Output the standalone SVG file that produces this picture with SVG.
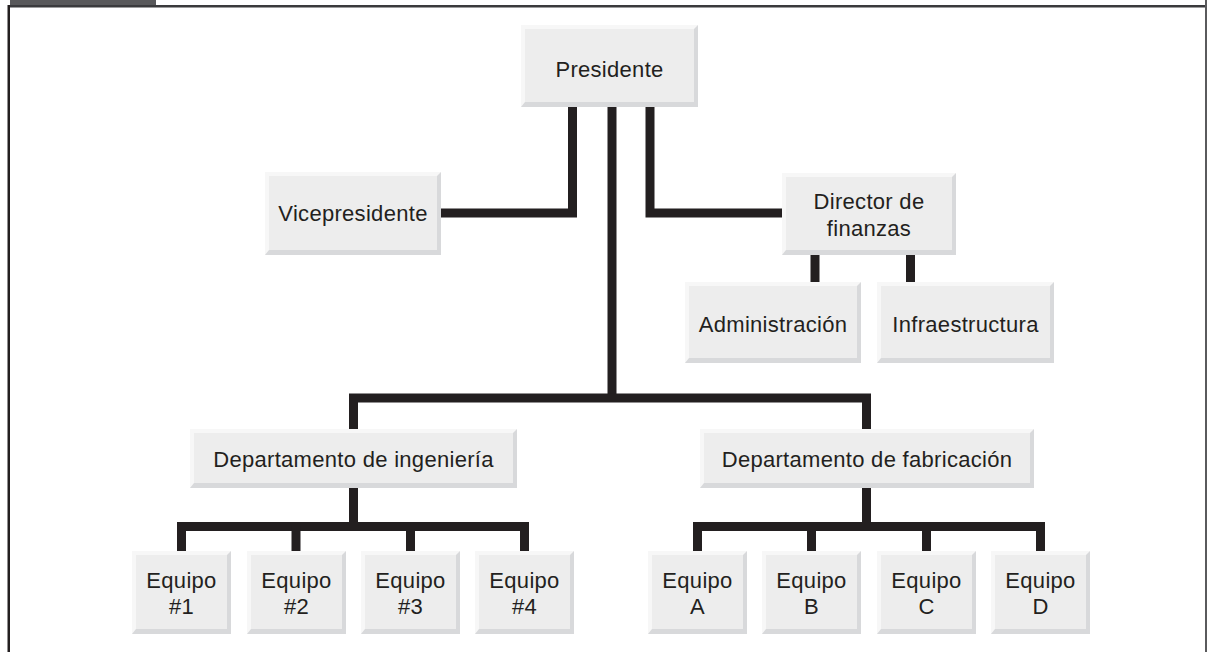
<svg xmlns="http://www.w3.org/2000/svg" width="1207" height="652" viewBox="0 0 1207 652">
<style>
.sh{fill:#d8d9db}
.hl{fill:#f7f7f7}
.face{fill:#ededed}
text{font-family:"Liberation Sans",Arial,sans-serif;font-size:22px;fill:#231f20;text-anchor:middle;letter-spacing:0.3px}
.conn{fill:none;stroke:#231f20;stroke-width:9;stroke-linejoin:miter;stroke-linecap:butt}
</style>
<rect x="0" y="0" width="1207" height="652" fill="#ffffff"/>
<g id="frame">
<rect x="10" y="0" width="146" height="5" fill="#58585a"/>
<rect x="8" y="5" width="1199" height="2.5" fill="#3a3a3c"/>
<rect x="7.5" y="5" width="2.5" height="647" fill="#231f20"/>
<rect x="1205" y="0" width="2" height="652" fill="#5a5a5c"/>
</g>
<g id="connectors">
<polyline class="conn" points="572.5,106 572.5,213 441,213"/>
<polyline class="conn" points="650,106 650,213 782,213"/>
<polyline class="conn" points="612,106 612,398"/>
<polyline class="conn" points="353.5,429 353.5,398 866.5,398 866.5,429"/>
<polyline class="conn" points="815,255 815,282"/>
<polyline class="conn" points="910.5,255 910.5,282"/>
<polyline class="conn" points="353.5,488 353.5,526.5"/>
<polyline class="conn" points="181.5,551 181.5,526.5 524.5,526.5 524.5,551"/>
<polyline class="conn" points="296,526 296,551"/>
<polyline class="conn" points="410.5,526 410.5,551"/>
<polyline class="conn" points="866.5,488 866.5,526.5"/>
<polyline class="conn" points="697.5,551 697.5,526.5 1040.5,526.5 1040.5,551"/>
<polyline class="conn" points="811.5,526 811.5,551"/>
<polyline class="conn" points="926.5,526 926.5,551"/>
</g>
<g id="presidente">
<rect class="sh" x="521" y="25" width="177" height="82"/>
<path class="hl" d="M521 25 H698 L694 29 H525 V102 L521 107 Z"/>
<rect class="face" x="525" y="29" width="169" height="73"/>
<text x="609.5" y="77">Presidente</text>
</g>
<g id="vicepresidente">
<rect class="sh" x="265" y="172" width="176" height="83"/>
<path class="hl" d="M265 172 H441 L437 176 H269 V250 L265 255 Z"/>
<rect class="face" x="269" y="176" width="168" height="74"/>
<text x="353" y="221">Vicepresidente</text>
</g>
<g id="director">
<rect class="sh" x="782" y="173" width="174" height="82"/>
<path class="hl" d="M782 173 H956 L952 177 H786 V250 L782 255 Z"/>
<rect class="face" x="786" y="177" width="166" height="73"/>
<text x="869" y="209">Director de</text>
<text x="869" y="236">finanzas</text>
</g>
<g id="administracion">
<rect class="sh" x="685" y="282" width="176" height="81"/>
<path class="hl" d="M685 282 H861 L857 286 H689 V358 L685 363 Z"/>
<rect class="face" x="689" y="286" width="168" height="72"/>
<text x="773" y="332">Administración</text>
</g>
<g id="infraestructura">
<rect class="sh" x="877" y="282" width="177" height="81"/>
<path class="hl" d="M877 282 H1054 L1050 286 H881 V358 L877 363 Z"/>
<rect class="face" x="881" y="286" width="169" height="72"/>
<text x="965.5" y="332">Infraestructura</text>
</g>
<g id="ingenieria">
<rect class="sh" x="190" y="429" width="327" height="59"/>
<path class="hl" d="M190 429 H517 L513 433 H194 V483 L190 488 Z"/>
<rect class="face" x="194" y="433" width="319" height="50"/>
<text x="353.5" y="467">Departamento de ingeniería</text>
</g>
<g id="fabricacion">
<rect class="sh" x="700" y="429" width="334" height="59"/>
<path class="hl" d="M700 429 H1034 L1030 433 H704 V483 L700 488 Z"/>
<rect class="face" x="704" y="433" width="326" height="50"/>
<text x="867" y="467">Departamento de fabricación</text>
</g>
<g id="equipo1">
<rect class="sh" x="132" y="551" width="99" height="83"/>
<path class="hl" d="M132 551 H231 L227 555 H136 V629 L132 634 Z"/>
<rect class="face" x="136" y="555" width="91" height="74"/>
<text x="181.5" y="588">Equipo</text>
<text x="181.5" y="614">#1</text>
</g>
<g id="equipo2">
<rect class="sh" x="247" y="551" width="99" height="83"/>
<path class="hl" d="M247 551 H346 L342 555 H251 V629 L247 634 Z"/>
<rect class="face" x="251" y="555" width="91" height="74"/>
<text x="296.5" y="588">Equipo</text>
<text x="296.5" y="614">#2</text>
</g>
<g id="equipo3">
<rect class="sh" x="361" y="551" width="99" height="83"/>
<path class="hl" d="M361 551 H460 L456 555 H365 V629 L361 634 Z"/>
<rect class="face" x="365" y="555" width="91" height="74"/>
<text x="410.5" y="588">Equipo</text>
<text x="410.5" y="614">#3</text>
</g>
<g id="equipo4">
<rect class="sh" x="475" y="551" width="99" height="83"/>
<path class="hl" d="M475 551 H574 L570 555 H479 V629 L475 634 Z"/>
<rect class="face" x="479" y="555" width="91" height="74"/>
<text x="524.5" y="588">Equipo</text>
<text x="524.5" y="614">#4</text>
</g>
<g id="equipoA">
<rect class="sh" x="648" y="551" width="99" height="83"/>
<path class="hl" d="M648 551 H747 L743 555 H652 V629 L648 634 Z"/>
<rect class="face" x="652" y="555" width="91" height="74"/>
<text x="697.5" y="588">Equipo</text>
<text x="697.5" y="614">A</text>
</g>
<g id="equipoB">
<rect class="sh" x="762" y="551" width="99" height="83"/>
<path class="hl" d="M762 551 H861 L857 555 H766 V629 L762 634 Z"/>
<rect class="face" x="766" y="555" width="91" height="74"/>
<text x="811.5" y="588">Equipo</text>
<text x="811.5" y="614">B</text>
</g>
<g id="equipoC">
<rect class="sh" x="877" y="551" width="99" height="83"/>
<path class="hl" d="M877 551 H976 L972 555 H881 V629 L877 634 Z"/>
<rect class="face" x="881" y="555" width="91" height="74"/>
<text x="926.5" y="588">Equipo</text>
<text x="926.5" y="614">C</text>
</g>
<g id="equipoD">
<rect class="sh" x="991" y="551" width="99" height="83"/>
<path class="hl" d="M991 551 H1090 L1086 555 H995 V629 L991 634 Z"/>
<rect class="face" x="995" y="555" width="91" height="74"/>
<text x="1040.5" y="588">Equipo</text>
<text x="1040.5" y="614">D</text>
</g>
</svg>
